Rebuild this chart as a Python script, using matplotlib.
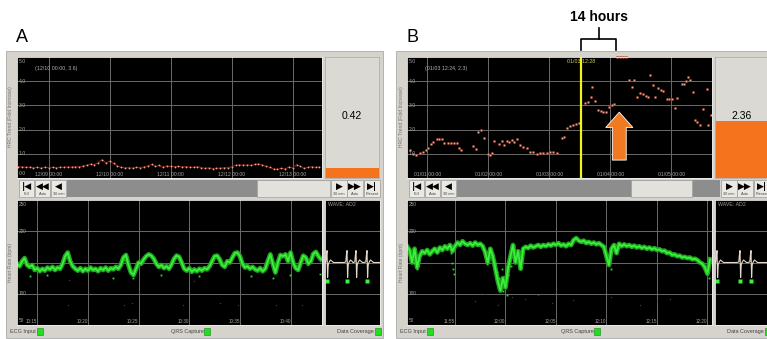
import matplotlib
matplotlib.use("Agg")
import matplotlib.pyplot as plt
from matplotlib.patches import Rectangle
import numpy as np

plt.rcParams["font.family"] = ["Liberation Sans", "DejaVu Sans"]

W, H = 767, 339

# ---- HRC trend, panel A: days after 12/09 00:00, one point every 1.5 h
a_trend_start = -0.5
a_trend_step = 1.5 / 24
a_trend = [0.47, 0.46, 0.44, 0.45, 0.42, 0.44, 0.41, 0.45, 0.43, 0.44,
           0.42, 0.45, 0.44, 0.46, 0.45, 0.47, 0.46, 0.50, 0.52, 0.58,
           0.55, 0.64, 0.76, 0.62, 0.70, 0.60, 0.50, 0.44, 0.42, 0.43,
           0.41, 0.44, 0.43, 0.46, 0.50, 0.56, 0.48, 0.52, 0.45, 0.50,
           0.48, 0.47, 0.48, 0.46, 0.47, 0.45, 0.44, 0.47, 0.43, 0.40,
           0.42, 0.39, 0.41, 0.40, 0.43, 0.42, 0.47, 0.52, 0.55, 0.53,
           0.54, 0.52, 0.56, 0.59, 0.54, 0.48, 0.44, 0.38, 0.36, 0.40,
           0.38, 0.45, 0.42, 0.55, 0.48, 0.40, 0.44, 0.47, 0.44, 0.46]
a_day_labels = ["12/09 00:00", "12/10 00:00", "12/11 00:00", "12/12 00:00", "12/13 00:00"]
a_score = 0.42
a_cursor = "(12/10 00:00, 3.6)"

# ---- HRC trend, panel B: days after 01/01 00:00
b_days = [-0.28, -0.23, -0.18, -0.11, -0.07, -0.02, 0.02, 0.07, 0.10, 0.16, 0.20, 0.25, 0.28, 0.34, 0.39, 0.44, 0.49, 0.52, 0.56,
          0.75, 0.80, 0.84, 0.89, 0.93, 1.00, 1.03, 1.07, 1.10, 1.18, 1.23, 1.26, 1.31, 1.34, 1.39, 1.43, 1.48, 1.52, 1.57,
          1.64, 1.69, 1.74, 1.80, 1.85, 1.90, 1.97, 2.02, 2.07, 2.13, 2.21, 2.25, 2.30, 2.34, 2.39, 2.44, 2.49,
          2.59, 2.64, 2.69, 2.70, 2.75, 2.80, 2.85, 2.89, 2.93, 2.98, 3.03, 3.07, 3.11, 3.16, 3.21, 3.26, 3.31, 3.36,
          3.39, 3.44, 3.49, 3.54, 3.59, 3.62, 3.66, 3.70, 3.74, 3.79, 3.84, 3.87, 3.93, 3.97, 4.02, 4.07, 4.10, 4.18,
          4.21, 4.25, 4.28, 4.31, 4.36, 4.39, 4.43, 4.48, 4.52, 4.59, 4.61, 4.66]
b_trend = [1.15, 1.00, 0.95, 1.03, 1.07, 1.16, 1.24, 1.40, 1.49, 1.61, 1.61, 1.61, 1.45, 1.45, 1.45, 1.45, 1.45, 1.24, 1.16,
           1.32, 1.20, 1.90, 1.98, 1.65, 1.00, 0.95, 1.03, 1.53, 1.40, 1.53, 1.36, 1.53, 1.49, 1.57, 1.49, 1.61, 1.36, 1.28,
           1.24, 1.07, 1.07, 1.00, 1.03, 1.03, 1.03, 1.07, 1.07, 1.03, 1.65, 1.70, 2.07, 2.15, 2.20, 2.23, 2.27,
           3.10, 3.15, 3.35, 3.75, 3.20, 2.80, 2.77, 2.73, 2.73, 2.93, 3.00, 3.05, 4.98, 4.98, 4.98, 4.98, 4.05, 3.76,
           4.05, 3.35, 3.51, 3.47, 3.39, 3.35, 4.26, 3.84, 3.35, 3.72, 3.64, 3.60, 3.26, 3.26, 3.26, 2.90, 3.30, 3.88,
           3.88, 4.00, 4.17, 4.05, 3.55, 2.40, 2.30, 2.20, 2.85, 3.68, 2.20, 2.60]
b_day_labels = ["01/01 00:00", "01/02 00:00", "01/03 00:00", "01/04 00:00", "01/05 00:00"]
b_event_day = 2 + (12 + 28 / 60) / 24
b_event_label = "01/03 12:28"
b_gap_hours = 14
b_arrow_day = 3.15
b_score = 2.36
b_cursor = "(01/03 12:24, 2.3)"

# ---- heart rate (bpm), one value every 15 s
hr_step = 0.25
a_hr_start = 13.0   # minutes after 10:00
a_hr = [148, 144, 152, 157, 146, 143, 146, 138, 141, 136, 140, 137, 142, 139, 143, 138, 142, 140, 148, 160,
        166, 152, 144, 140, 137, 141, 136, 140, 137, 142, 138, 140, 136, 141, 138, 142, 137, 141, 139, 143,
        140, 146, 158, 162, 146, 134, 130, 140, 150, 148, 155, 160, 163, 161, 156, 148, 143, 146, 141, 144,
        140, 147, 156, 161, 159, 150, 140, 137, 141, 135, 139, 136, 140, 137, 141, 139, 144, 152, 160, 161,
        155, 146, 143, 152, 150, 158, 165, 166, 160, 148, 142, 144, 140, 143, 139, 137, 141, 136, 140, 152,
        163, 148, 134, 150, 162, 160, 163, 152, 166, 150, 141, 138, 150, 161, 158, 148, 152, 164, 167, 160, 155]
a_hr_ticks = [15, 20, 25, 30, 35, 40]
a_hr_labels = ["10:15", "10:20", "10:25", "10:30", "10:35", "10:40"]
a_noise_min = [18.0, 23.6, 24.3, 29.4, 33.0, 34.8, 38.6, 41.1, 18.1, 30.5]
a_noise_bpm = [82, 82, 85, 82, 85, 82, 82, 82, 122, 121]
a_beat_min = [14.3, 16.0, 22.5, 24.4, 27.2, 31.0, 36.1, 38.3, 39.9, 42.9]
a_beat_bpm = [128, 130, 126, 126, 130, 128, 128, 125, 130, 132]

b_hr_start = 50.25  # minutes after 11:00
b_hr = [176, 170, 150, 172, 142, 160, 168, 165, 170, 163, 168, 172, 166, 174, 170, 176, 172, 178, 168, 176,
        182, 178, 184, 180, 178, 181, 177, 182, 178, 180, 176, 166, 150, 172, 160, 140, 120, 105, 125, 110,
        140, 160, 178, 150, 168, 140, 172, 175, 173, 177, 174, 176, 178, 175, 178, 176, 179, 177, 180, 178,
        181, 177, 179, 176, 180, 178, 186, 189, 185, 183, 185, 181, 183, 180, 182, 179, 181, 178, 175, 160,
        146, 172, 178, 165, 180, 176, 179, 176, 178, 175, 177, 174, 176, 173, 175, 172, 174, 171, 173, 170,
        171, 168, 169, 165, 166, 162, 163, 160, 161, 158, 159, 157, 158, 155, 156, 154, 150, 148, 142, 132, 155]
b_hr_ticks = [55, 60, 65, 70, 75, 80]
b_hr_labels = ["11:55", "12:00", "12:05", "12:10", "12:15", "12:20"]
b_noise_min = [55.0, 57.0, 58.0, 59.3, 60.6, 61.9, 63.2, 64.6, 66.7, 70.4, 73.3, 75.0, 76.3]
b_noise_bpm = [95, 88, 100, 82, 95, 92, 98, 85, 90, 95, 82, 88, 92]
b_beat_min = [50.9, 51.2, 54.6, 54.7, 54.8, 54.9, 58.0, 58.2, 59.0, 59.2, 59.4, 59.5, 59.7, 59.8,
              60.0, 60.2, 60.3, 60.5, 61.3, 61.5, 70.2, 70.4, 80.0, 80.2]
b_beat_bpm = [150, 140, 165, 150, 140, 132, 160, 148, 150, 135, 125, 112, 140, 105,
              118, 98, 130, 145, 160, 142, 155, 140, 135, 125]

# ---- ECG strip (seconds), beat times and the QRS shape
a_beats = [0.2, 2.2, 3.1, 4.2]
a_captured = [0.2, 2.2, 4.2]
b_beats = [0.2, 2.5, 3.6]
b_captured = [0.2, 2.5, 3.6]
qrs_t = [-0.3, -0.12, -0.06, 0.0, 0.06, 0.12, 0.2, 0.35, 0.5, 0.65]
qrs_v = [0.0, 0.01, 0.12, 0.19, -0.24, -0.04, 0.0, 0.04, 0.02, 0.0]

FRAME = "#d5d3cc"
GRID = "#6a6a6a"
TICK = "#a5a5a5"
ORANGE = "#f5731c"
GREEN = "#3cf03c"

fig = plt.figure(figsize=(W / 100, H / 100), dpi=100)
bg = fig.add_axes([0, 0, 1, 1])
bg.set_xlim(0, W)
bg.set_ylim(H, 0)
bg.axis("off")


def add_ax(x0, y0, x1, y1):
    return fig.add_axes([x0 / W, 1 - y1 / H, (x1 - x0) / W, (y1 - y0) / H])


def style_black(ax):
    ax.set_facecolor("black")
    ax.grid(True, color=GRID, lw=0.7)
    ax.tick_params(length=0, labelleft=False, labelbottom=False)
    for s in ax.spines.values():
        s.set_color("#eeeeee")
        s.set_linewidth(0.6)


def button(x, w, icon, label):
    bg.add_patch(Rectangle((x, 180), w, 17, fc="#ebe9e3", ec="#9a9a9a", lw=0.5))
    bg.text(x + w / 2, 186.5, icon, ha="center", va="center", fontsize=6.5,
            fontweight="bold", color="black", family=["DejaVu Sans"])
    bg.text(x + w / 2, 194, label, ha="center", va="center", fontsize=2.8, color="#444444")


def panel(ox, letter, thumb, xlim_top, day_labels, score, cursor, xlim_hr,
          hr_ticks, hr_labels, beats, captured, wave_end, show_zero):
    # frame and controls
    bg.add_patch(Rectangle((ox + 6, 51), 377, 287, fc=FRAME, ec="#aaaaaa", lw=0.6))
    bg.add_patch(Rectangle((ox + 67, 180), 263, 17, fc="#8d8d8d", ec="none"))
    bg.add_patch(Rectangle((ox + thumb[0], 180), thumb[1] - thumb[0], 17,
                           fc="#e3e1db", ec="#a0a0a0", lw=0.5))
    for x, icon, lab in [(19, "|◀", "Full"), (35, "◀◀", "Auto"), (51, "◀", "30 min")]:
        button(ox + x, 15, icon, lab)
    for x, icon, lab in [(331, "▶", "30 min"), (347, "▶▶", "Auto"), (364, "▶|", "Present")]:
        button(ox + x, 16, icon, lab)
    bg.text(ox + 22, 37, letter, fontsize=13, ha="center", va="center")
    bg.text(ox + 11, 117, "HRC Trend (Fold Increase)", rotation=90, fontsize=3.6,
            color="#777777", ha="center", va="center")
    bg.text(ox + 11, 262, "Heart Rate (bpm)", rotation=90, fontsize=3.6,
            color="#777777", ha="center", va="center")
    for x, lab, sq in [(10, "ECG Input", 37), (171, "QRS Capture", 204), (337, "Data Coverage", 375)]:
        bg.text(ox + x, 332, lab, fontsize=4, color="#444444", va="center")
        bg.add_patch(Rectangle((ox + sq, 328), 6, 7, fc="#22dd22", ec="#118811", lw=0.4))

    # trend plot
    ax = add_ax(ox + 17, 57, ox + 322, 178)
    style_black(ax)
    ax.set_xlim(*xlim_top)
    ax.set_ylim(0, 5)
    ax.set_yticks([1, 2, 3, 4])
    ax.set_xticks(range(len(day_labels)))
    for v in range(0 if show_zero else 1, 6):
        va = "bottom" if v == 0 else ("top" if v == 5 else "center")
        ax.text(0.006, v + (0.08 if v == 0 else -0.08 if v == 5 else 0), f"{v:.1f}",
                transform=ax.get_yaxis_transform(), fontsize=3.7, color=TICK, va=va)
    for d, lab in enumerate(day_labels):
        ax.text(d, 0.012, lab, transform=ax.get_xaxis_transform(), fontsize=3.7,
                color=TICK, ha="center", va="bottom")
    ax.text(0.06, 0.89, cursor, transform=ax.transAxes, fontsize=3.8, color="#b5b5b5")

    # current score box
    sax = add_ax(ox + 325, 57, ox + 379, 178)
    sax.set_facecolor("#dad9d3")
    sax.set_xlim(-0.5, 0.5)
    sax.set_ylim(0, 5)
    sax.bar(0, score, width=1, color=ORANGE)
    sax.set_xticks([])
    sax.set_yticks([])
    for s in sax.spines.values():
        s.set_color("#b0b0b0")
        s.set_linewidth(0.6)
    sax.text(0, 0.515, f"{score:.2f}", transform=sax.get_xaxis_transform(),
             fontsize=7.5, ha="center", va="center")

    # heart rate plot
    hax = add_ax(ox + 17, 200, ox + 322, 325)
    style_black(hax)
    hax.set_xlim(*xlim_hr)
    hax.set_ylim(50, 250)
    hax.set_yticks([100, 150, 200])
    hax.set_xticks(hr_ticks)
    for v, va, dy in [(250, "top", -3), (200, "center", 0), (100, "center", 0), (50, "bottom", 3)]:
        hax.text(0.006, v + dy, str(v), transform=hax.get_yaxis_transform(),
                 fontsize=3.4, color=TICK, va=va)
    for t, lab in zip(hr_ticks, hr_labels):
        hax.text(t, 0.01, lab, transform=hax.get_xaxis_transform(), fontsize=3.3,
                 color=TICK, ha="right", va="bottom")

    # ECG strip
    wax = add_ax(ox + 325, 200, ox + 380, 325)
    style_black(wax)
    wax.grid(True, axis="y", color=GRID, lw=0.7)
    wax.grid(False, axis="x")
    wax.set_xlim(0, wave_end)
    wax.set_ylim(-1, 1)
    wax.set_yticks([-0.5, 0, 0.5])
    wax.set_xticks([])
    wt = [0.0] + [b + t for b in beats for t in qrs_t] + [wave_end]
    wv = [0.0] + [v for b in beats for v in qrs_v] + [0.0]
    order = np.argsort(wt)
    wax.plot(np.array(wt)[order], np.array(wv)[order], color="#e6d9c8", lw=0.8)
    wax.plot(captured, [-0.29] * len(captured), "s", ms=2.6, color=GREEN, mec="none")
    wax.text(0.05, 0.985, "WAVE: AD2", transform=wax.transAxes, fontsize=3.8,
             color="#9a9a9a", va="top")
    return ax, hax


ax_a, hax_a = panel(0, "A", (257, 330), (-0.52, 4.48), a_day_labels, a_score, a_cursor,
                    (13.0, 43.1), a_hr_ticks, a_hr_labels, a_beats, a_captured, 5.5, True)
ax_b, hax_b = panel(390, "B", (241, 302), (-0.33, 4.67), b_day_labels, b_score, b_cursor,
                    (50.25, 80.45), b_hr_ticks, b_hr_labels, b_beats, b_captured, 5.5, False)

# trend series
a_days = a_trend_start + a_trend_step * np.arange(len(a_trend))
ax_a.plot(a_days, a_trend, color="#8a1c12", lw=0.8)
ax_a.plot(a_days, a_trend, "o", ms=1.3, color="#f0a88c", mec="none")
ax_b.plot(b_days, b_trend, "o", ms=1.7, color="#e8a890", mec="#8a2a18", mew=0.35, clip_on=False)

# event marker, 14 hour bracket and arrow in B
ax_b.axvline(b_event_day, color="#f2f21e", lw=1.6)
ax_b.text(b_event_day, 0.965, b_event_label, transform=ax_b.get_xaxis_transform(),
          fontsize=3.8, color="#d6d640", ha="center", va="center")
end_day = b_event_day + b_gap_hours / 24
mid_day = (b_event_day + end_day) / 2
tr = ax_b.get_xaxis_transform()
ax_b.plot([b_event_day, b_event_day, end_day, end_day], [1.06, 1.15, 1.15, 1.06],
          transform=tr, color="black", lw=1.2, clip_on=False)
ax_b.plot([mid_day, mid_day], [1.15, 1.24], transform=tr, color="black", lw=1.2, clip_on=False)
ax_b.text(mid_day, 1.33, f"{b_gap_hours} hours", transform=tr, fontsize=10,
          fontweight="bold", ha="center", va="center")
ax_b.annotate("", xy=(b_arrow_day, 2.72), xytext=(b_arrow_day, 0.74),
              arrowprops=dict(arrowstyle="simple,head_width=1.95,head_length=1.1,tail_width=1.0",
                              mutation_scale=10, fc="#f07a22", ec="white", lw=0.6,
                              shrinkA=0, shrinkB=0))

# heart rate series
a_min = a_hr_start + hr_step * np.arange(len(a_hr))
b_min = b_hr_start + hr_step * np.arange(len(b_hr))
for hax, m, hr, nm, nb, em, eb in [(hax_a, a_min, a_hr, a_noise_min, a_noise_bpm, a_beat_min, a_beat_bpm),
                                   (hax_b, b_min, b_hr, b_noise_min, b_noise_bpm, b_beat_min, b_beat_bpm)]:
    hax.plot(nm, nb, "o", ms=1.0, color="#7a2418", mec="none")
    hax.plot(m, hr, color="#1fa51f", lw=3.4)
    hax.plot(m, hr, color=GREEN, lw=1.3)
    hax.plot(em, eb, "s", ms=1.3, color="#2ed82e", mec="none")

fig.savefig("out.png", dpi=100)
